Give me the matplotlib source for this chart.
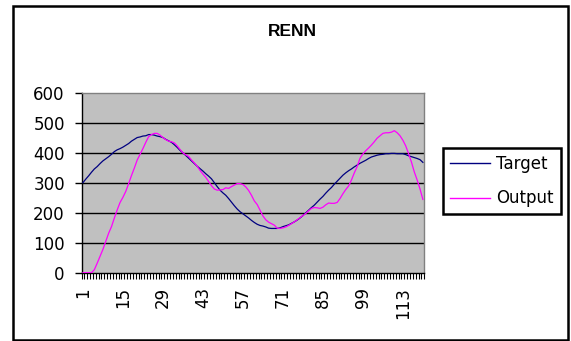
import matplotlib.pyplot as plt
import matplotlib.patches as patches
from matplotlib.ticker import FixedLocator, NullFormatter

# samples 1..120
target = [
    301, 313, 324, 336, 347, 355, 365, 374, 381, 388,
    396, 405, 411, 415, 420, 426, 432, 440, 446, 452,
    454, 457, 458, 462, 462, 460, 457, 455, 452, 446,
    441, 436, 428, 419, 409, 401, 392, 383, 374, 365,
    356, 348, 340, 331, 323, 314, 301, 288, 276, 267,
    259, 248, 236, 224, 213, 204, 197, 190, 183, 175,
    168, 162, 158, 156, 153, 149, 148, 148, 148, 150,
    154, 157, 160, 165, 170, 176, 183, 191, 200, 209,
    218, 226, 236, 246, 255, 266, 276, 285, 296, 306,
    316, 326, 334, 341, 347, 354, 360, 366, 371, 376,
    382, 387, 390, 393, 395, 396, 398, 398, 399, 399,
    398, 398, 398, 395, 391, 388, 385, 382, 378, 369,
]
output = [
    0, 0, 0, 0, 10, 32, 55, 78, 105, 132,
    154, 183, 210, 235, 252, 272, 298, 325, 350, 377,
    396, 415, 436, 455, 462, 466, 466, 460, 452, 445,
    440, 438, 434, 424, 412, 401, 394, 389, 377, 367,
    356, 342, 330, 319, 305, 291, 280, 276, 277, 278,
    284, 282, 288, 293, 298, 298, 295, 287, 275, 259,
    240, 228, 209, 190, 177, 169, 164, 159, 149, 148,
    150, 153, 158, 164, 170, 177, 184, 191, 198, 207,
    215, 218, 217, 215, 219, 227, 233, 232, 232, 235,
    248, 264, 278, 290, 310, 334, 355, 383, 397, 408,
    417, 427, 438, 450, 458, 466, 468, 468, 470, 475,
    468, 458, 443, 424, 398, 370, 337, 310, 280, 245,
]
x = list(range(1, len(target) + 1))
x_labels = x[::14]
y_ticks = [0, 100, 200, 300, 400, 500, 600]

W, H = 571, 341
fig = plt.figure(figsize=(W / 100, H / 100), dpi=100)

# outer chart frame
fig.patches.append(patches.Rectangle((13 / W, 1 - 340 / H), 555 / W, 334 / H,
                                     transform=fig.transFigure, fill=False,
                                     edgecolor='black', linewidth=1.8))

ax = fig.add_axes([81.5 / W, 1 - 272.7 / H, 342.8 / W, 179.4 / H])
ax.set_facecolor('#C0C0C0')

for v in y_ticks[1:-1]:
    ax.axhline(v, color='black', linewidth=1.0, zorder=1)

ax.plot(x, target, color='#000080', linewidth=0.9, label='Target', zorder=3)
ax.plot(x, output, color='#FF00FF', linewidth=0.9, label='Output', zorder=3)

ax.set_xlim(0.5, len(x) + 0.5)
ax.set_ylim(0, 600)

ax.set_yticks(y_ticks)
ax.tick_params(axis='y', length=5, width=1, pad=7, labelsize=12, color='black')

ax.xaxis.set_major_locator(FixedLocator(x_labels))
ax.set_xticklabels([str(v) for v in x_labels], rotation=90, fontsize=12)
ax.xaxis.set_minor_locator(FixedLocator([i + 0.5 for i in range(0, len(x) + 1)]))
ax.xaxis.set_minor_formatter(NullFormatter())
ax.tick_params(axis='x', which='major', length=0, pad=10.5)
ax.tick_params(axis='x', which='minor', length=4, width=0.8, color='black')

for side in ['left', 'bottom']:
    ax.spines[side].set_color('black')
    ax.spines[side].set_linewidth(1.0)
for side in ['top', 'right']:
    ax.spines[side].set_color('#808080')
    ax.spines[side].set_linewidth(1.0)

fig.text(292 / W, 1 - 31 / H, 'RENN', ha='center', va='center',
         fontsize=12.5, fontweight='bold', family='Liberation Sans')

leg = ax.legend(loc='upper left', bbox_to_anchor=(442.5 / W, 1 - 147.7 / H),
                bbox_transform=fig.transFigure, borderaxespad=0, fontsize=12,
                frameon=True, fancybox=False, framealpha=1, edgecolor='black',
                handlelength=2.4, handletextpad=0.4, labelspacing=1.0,
                borderpad=0.42)
leg.get_frame().set_linewidth(1.8)
for line in leg.get_lines():
    line.set_linewidth(1.0)

fig.savefig('out.png', dpi=100)
